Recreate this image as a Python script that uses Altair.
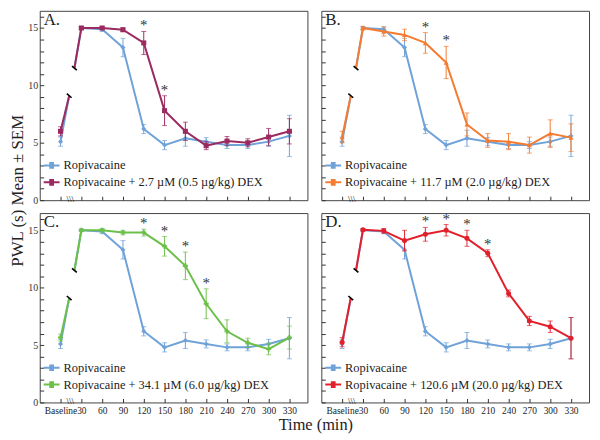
import altair as alt
import pandas as pd

FONT = "Liberation Serif"
W, H = 270, 191

# ---------------- data ----------------
TIMES = [0, 30, 60, 90, 120, 150, 180, 210, 240, 270, 300, 330]
Y_TICKS = list(range(0, 17))

ROP_NAME = "Ropivacaine"
ROP_MEAN = [5.1, 15.0, 14.9, 13.3, 6.2, 4.8, 5.4, 5.1, 4.8, 4.8, 5.1, 5.6]
ROP_SEM = [0.4, 0.12, 0.2, 0.8, 0.4, 0.4, 0.7, 0.35, 0.3, 0.3, 0.4, 1.8]

PANELS = ["A.", "B.", "C.", "D."]
DEX_NAMES = [
    "Ropivacaine + 2.7 \u00b5M (0.5 \u00b5g/kg) DEX",
    "Ropivacaine + 11.7 \u00b5M (2.0 \u00b5g/kg) DEX",
    "Ropivacaine + 34.1 \u00b5M (6.0 \u00b5g/kg) DEX",
    "Ropivacaine + 120.6 \u00b5M (20.0 \u00b5g/kg) DEX",
]
DEX_A_MEAN = [6.0, 15.0, 15.0, 14.85, 13.7, 7.8, 6.0, 4.75, 5.15, 5.0, 5.5, 6.0]
DEX_A_SEM = [0.4, 0.1, 0.1, 0.15, 1.0, 1.3, 0.8, 0.35, 0.4, 0.35, 0.75, 1.1]
DEX_B_MEAN = [5.5, 15.0, 14.7, 14.4, 13.7, 12.0, 6.6, 5.2, 5.1, 4.8, 5.8, 5.45]
DEX_B_SEM = [0.5, 0.15, 0.4, 0.5, 0.9, 1.4, 1.0, 0.6, 0.7, 0.7, 1.2, 1.2]
DEX_C_MEAN = [5.65, 15.0, 15.0, 14.8, 14.8, 13.6, 11.9, 8.6, 6.2, 5.2, 4.65, 5.65]
DEX_C_SEM = [0.3, 0.1, 0.15, 0.2, 0.3, 0.85, 1.2, 1.3, 1.0, 0.4, 0.5, 1.0]
DEX_D_MEAN = [5.25, 15.05, 14.95, 14.1, 14.65, 15.0, 14.3, 13.0, 9.5, 7.1, 6.6, 5.6]
DEX_D_SEM = [0.4, 0.1, 0.2, 0.9, 0.6, 0.5, 0.7, 0.3, 0.3, 0.4, 0.5, 1.8]
DEX_MEANS = [DEX_A_MEAN, DEX_B_MEAN, DEX_C_MEAN, DEX_D_MEAN]
DEX_SEMS = [DEX_A_SEM, DEX_B_SEM, DEX_C_SEM, DEX_D_SEM]

STAR_TIMES = [[120, 150], [120, 150], [120, 150, 180, 210], [120, 150, 180, 210]]

# broken segment between Baseline and 30 min
BREAK_TIMES = [12.5, 20.0]
BREAK_VALUES = [9.1, 11.5]
AXIS_BREAK_TIME = 14

ROP_COLOR = "#6fa2d8"
DEX_COLORS = ["#9b2a60", "#f47b30", "#6cc04a", "#e2202c"]
ROP_SHAPE = "diamond"
DEX_SHAPES = ["square", "triangle-up", "cross", "circle"]

LEGEND_SYMBOL = ("M-1,0H1M-0.3,-0.3H0.3M-0.3,-0.15H0.3M-0.3,0H0.3"
                 "M-0.3,0.15H0.3M-0.3,0.3H0.3")

Y_TITLE = "PWL (s) Mean \u00b1 SEM"
X_TITLE = "Time (min)"


def panel(i):
    dex = DEX_NAMES[i]
    series = [ROP_NAME, dex]
    means = [ROP_MEAN, DEX_MEANS[i]]
    sems = [ROP_SEM, DEX_SEMS[i]]
    shapes = [ROP_SHAPE, DEX_SHAPES[i]]
    pts, lines = [], []
    for s, m, e in zip(series, means, sems):
        for t, mv, ev in zip(TIMES, m, e):
            pts.append(dict(series=s, t=t, v=mv, lo=mv - ev, hi=mv + ev))
        lines.append(dict(series=s, seg="pre", t=TIMES[0], v=m[0]))
        lines.append(dict(series=s, seg="pre", t=BREAK_TIMES[0], v=BREAK_VALUES[0]))
        lines.append(dict(series=s, seg="post", t=BREAK_TIMES[1], v=BREAK_VALUES[1]))
        lines.append(dict(series=s, seg="post", t=TIMES[1], v=m[1]))
        for t, mv in zip(TIMES[1:], m[1:]):
            lines.append(dict(series=s, seg="main", t=t, v=mv))
    pts_df = pd.DataFrame(pts)
    lines_df = pd.DataFrame(lines)
    star_df = pts_df[(pts_df.series == dex) & (pts_df.t.isin(STAR_TIMES[i]))]
    brk_df = pd.DataFrame({"t": BREAK_TIMES, "v": BREAK_VALUES})
    axbrk_df = pd.DataFrame({"t": [AXIS_BREAK_TIME], "v": [0]})
    lab_df = pd.DataFrame({"label": [PANELS[i]]})

    left = i in (0, 2)
    bottom = i in (2, 3)

    xkw = dict(values=TIMES, offset=-4, tickSize=4, domain=False, grid=False,
               tickColor="#333", labels=bottom, labelOverlap=False, labelFlush=False)
    if bottom:
        xkw.update(labelExpr="datum.value == 0 ? 'Baseline' : datum.label",
                   labelFont=FONT, labelFontSize=9.5, labelColor="#222",
                   labelPadding=3)
    if i == 2:
        xkw.update(title=X_TITLE, titleX=278, titleY=26, titleAlign="center",
                   titleBaseline="middle", titleFontSize=16.5, titleFont=FONT,
                   titleFontWeight="normal", titleColor="#222", titleAngle=0)
    else:
        xkw.update(title=None)
    ykw = dict(values=Y_TICKS, offset=-4, tickSize=4, domain=False, grid=False,
               tickColor="#333", labels=left)
    if left:
        ykw.update(labelExpr="datum.value % 5 == 0 ? datum.label : ''",
                   labelFont=FONT, labelFontSize=10, labelColor="#333",
                   labelPadding=2)
    if i == 0:
        ykw.update(title=Y_TITLE, titleX=-26, titleY=181, titleAngle=270,
                   titleAlign="center", titleBaseline="middle", titleFontSize=17,
                   titleFont=FONT, titleFontWeight="normal", titleColor="#222")
    else:
        ykw.update(title=None)
    xaxis = alt.Axis(**xkw)
    yaxis = alt.Axis(**ykw)
    xscale = alt.Scale(domain=[-30, 356], nice=False, zero=False)
    yscale = alt.Scale(domain=[0, 16.5], nice=False, zero=False)

    cscale = alt.Scale(domain=series, range=[ROP_COLOR, DEX_COLORS[i]])
    legend = alt.Legend(title=None, orient="none", legendX=3, legendY=H - 44,
                        symbolType=LEGEND_SYMBOL, symbolSize=256,
                        symbolStrokeWidth=2, labelFont=FONT, labelFontSize=12.5,
                        labelColor="#222", labelLimit=400, rowPadding=1,
                        labelOffset=3, padding=0)

    X = alt.X("t:Q", scale=xscale, axis=xaxis)

    layers = []
    for s, shp in zip(series, shapes):
        flt = alt.datum.series == s
        col_leg = alt.Color("series:N", scale=cscale, legend=legend)
        col = alt.Color("series:N", scale=cscale, legend=None)
        layers.append(alt.Chart(lines_df).transform_filter(flt)
                      .mark_line(strokeWidth=2)
                      .encode(x=X, y=alt.Y("v:Q", scale=yscale, axis=yaxis),
                              color=col_leg, detail="seg:N", order="t:Q"))
        layers.append(alt.Chart(pts_df).transform_filter(flt)
                      .mark_rule(strokeWidth=1)
                      .encode(x=X, y=alt.Y("lo:Q", scale=yscale, axis=yaxis),
                              y2="hi:Q", color=col))
        for fld in ("lo", "hi"):
            layers.append(alt.Chart(pts_df).transform_filter(flt)
                          .mark_tick(orient="horizontal", size=5, thickness=1)
                          .encode(x=X, y=alt.Y(f"{fld}:Q", scale=yscale, axis=yaxis),
                                  color=col))
        layers.append(alt.Chart(pts_df).transform_filter(flt)
                      .mark_point(filled=True, size=26, opacity=1, shape=shp)
                      .encode(x=X, y=alt.Y("v:Q", scale=yscale, axis=yaxis),
                              color=col))
    layers.append(alt.Chart(star_df)
                  .mark_text(text="*", fontSize=15, color="#333", font=FONT,
                             baseline="alphabetic", dy=-1)
                  .encode(x=X, y=alt.Y("hi:Q", scale=yscale, axis=yaxis)))
    layers.append(alt.Chart(brk_df)
                  .mark_point(shape="stroke", angle=40, size=40, strokeWidth=1.6,
                              color="black", opacity=1)
                  .encode(x=X, y=alt.Y("v:Q", scale=yscale, axis=yaxis)))
    layers.append(alt.Chart(axbrk_df)
                  .mark_text(text="\\\\\\", fontSize=9, color="black", font=FONT,
                             baseline="middle", dy=-1)
                  .encode(x=X, y=alt.Y("v:Q", scale=yscale, axis=yaxis)))
    layers.append(alt.Chart(lab_df)
                  .mark_text(align="left", baseline="top", fontSize=17,
                             color="#222", font=FONT)
                  .encode(text="label:N", x=alt.value(4), y=alt.value(1)))
    return alt.layer(*layers).properties(width=W, height=H)


chart = (alt.concat(panel(0), panel(1), panel(2), panel(3), columns=2,
                    spacing={"row": 13, "column": 14}, bounds="flush")
         .resolve_scale(color="independent")
         .properties(padding={"left": 0, "top": 0, "right": 2, "bottom": 0})
         .configure(font=FONT)
         .configure_view(stroke="#444", strokeWidth=1))

chart.save("out.html", embed_options={"renderer": "svg", "actions": False})
